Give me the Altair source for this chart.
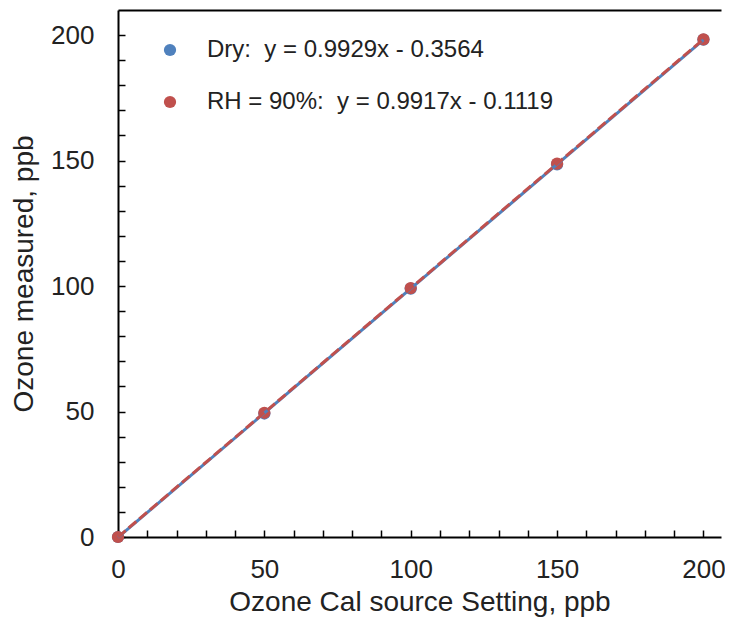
import altair as alt
import pandas as pd

settings = [0, 50, 100, 150, 200]
dry_measured = [0.0, 49.2, 99.0, 148.5, 198.2]
rh_measured = [0.0, 49.5, 99.2, 148.8, 198.3]
dry_label = "Dry:\u00a0 y = 0.9929x - 0.3564"
rh_label = "RH = 90%:\u00a0 y = 0.9917x - 0.1119"
series_labels = [dry_label, rh_label]
series_colors = ["#4F81BD", "#C0504D"]
major_ticks = [0, 50, 100, 150, 200]
minor_ticks = list(range(0, 201, 10))

rows = []
for s, m in zip(settings, dry_measured):
    rows.append({"x": s, "y": m, "series": dry_label})
for s, m in zip(settings, rh_measured):
    rows.append({"x": s, "y": m, "series": rh_label})
df = pd.DataFrame(rows)

FONT = "Liberation Sans"
xscale = alt.Scale(domain=[0, 206], nice=False, zero=False)
yscale = alt.Scale(domain=[0, 210], nice=False, zero=False)

# points layer, carries inward tick-only axes
points = alt.Chart(df).mark_circle(size=150, opacity=1).encode(
    x=alt.X("x:Q", scale=xscale, axis=alt.Axis(
        orient="bottom", values=minor_ticks, labels=False, domain=False, grid=False,
        title=None, ticks=True, tickSize=7, offset=-7, tickColor="black", tickWidth=1.5)),
    y=alt.Y("y:Q", scale=yscale, axis=alt.Axis(
        orient="left", values=minor_ticks, labels=False, domain=False, grid=False,
        title=None, ticks=True, tickSize=7, offset=-7, tickColor="black", tickWidth=1.5)),
    color=alt.Color("series:N", scale=alt.Scale(domain=series_labels, range=series_colors),
                    legend=alt.Legend(title=None, orient="none", legendX=40, legendY=28,
                                      symbolType="circle", symbolSize=150, symbolStrokeWidth=0,
                                      labelFontSize=24, labelFont=FONT, labelColor="#222",
                                      labelLimit=500, labelOffset=25, rowPadding=28, padding=0)),
)

dry_line = alt.Chart(df).transform_filter(
    alt.datum.series == dry_label
).transform_regression("x", "y", extent=[0, 200]).mark_line(
    color=series_colors[0], strokeWidth=3
).encode(
    x=alt.X("x:Q", scale=xscale, axis=alt.Axis(
        orient="bottom", values=major_ticks, ticks=False, grid=False, domainColor="black",
        domainWidth=2, labelFontSize=26, labelFont=FONT, labelColor="#222", labelPadding=19,
        labelFlush=False,
        title="Ozone Cal source Setting, ppb", titleFontSize=28, titleFont=FONT,
        titleFontWeight="normal", titleColor="#222", titlePadding=6)),
    y=alt.Y("y:Q", scale=yscale, axis=alt.Axis(
        orient="left", values=major_ticks, ticks=False, grid=False, domainColor="black",
        domainWidth=2, labelFontSize=26, labelFont=FONT, labelColor="#222", labelPadding=24,
        title="Ozone measured, ppb", titleFontSize=28, titleFont=FONT,
        titleFontWeight="normal", titleColor="#222", titlePadding=12)),
)

rh_line = alt.Chart(df).transform_filter(
    alt.datum.series == rh_label
).transform_regression("x", "y", extent=[0, 200]).mark_line(
    color=series_colors[1], strokeWidth=3, strokeDash=[10, 4]
).encode(
    x=alt.X("x:Q", scale=xscale, axis=alt.Axis(
        orient="top", labels=False, ticks=False, grid=False, title=None,
        domainColor="black", domainWidth=2)),
    y=alt.Y("y:Q", scale=yscale, axis=None),
)

chart = alt.layer(points, dry_line, rh_line).resolve_axis(
    x="independent", y="independent"
).properties(
    width=603, height=527,
    autosize=alt.AutoSizeParams(type="none"),
    padding={"left": 110, "top": 2, "right": 4, "bottom": 84},
).configure_view(stroke=None)

chart.save("out.html", embed_options={"renderer": "svg", "actions": False})
